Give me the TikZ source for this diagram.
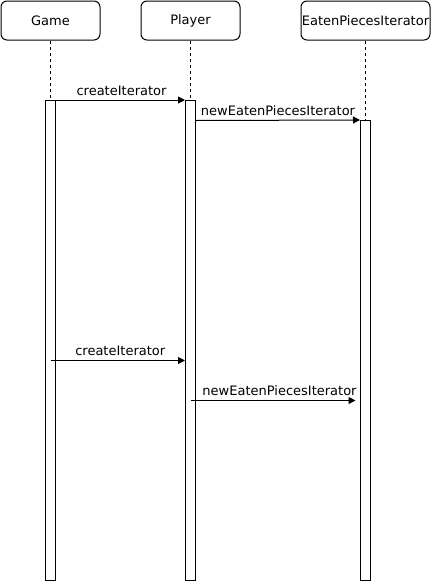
\documentclass[tikz,border=0pt]{standalone}
\usepackage{fontspec}
\setmainfont{DejaVu Sans}
\usetikzlibrary{arrows.meta}
\begin{document}
\begin{tikzpicture}[x=1pt,y=-1pt,line width=1pt,
  actor/.style={draw,rounded corners=6pt,minimum width=99pt,minimum height=39pt,inner sep=0pt,font=\fontsize{13}{15}\selectfont},
  activation/.style={draw,fill=white,minimum width=10pt,inner sep=0pt},
  lifeline/.style={dashed,line width=0.6pt,dash pattern=on 3pt off 3pt},
  msg/.style={-{Triangle[length=7pt,width=7pt]}},
  lbl/.style={font=\fontsize{13}{15}\selectfont,inner sep=0pt}]
\useasboundingbox (0,0) rectangle (431,581);
\node[actor] (game) at (50.5,20.5) {Game};
\node[actor] (player) at (190.5,20.5) {Player};
\node[actor,minimum width=129pt] (epi) at (365.5,20.5) {EatenPiecesIterator};
\node[activation,minimum height=480pt] (ga) at (50.5,340.5) {};
\node[activation,minimum height=480pt] (pa) at (190.5,340.5) {};
\node[activation,minimum height=460pt] (ea) at (365.5,350.5) {};
\draw[lifeline] (game.south) -- (ga.north);
\draw[lifeline] (player.south) -- (pa.north);
\draw[lifeline] (epi.south) -- (ea.north);
\coordinate (m2) at (0,120.5);
\coordinate (m3) at (0,360.5);
\coordinate (m4) at (0,400.5);
\coordinate (m4end) at (355.5,400.5);
\draw[msg] (ga.north east) -- node[lbl,above=4pt,xshift=1pt] {createIterator} (pa.north west);
\draw[msg] (pa.east |- m2) -- node[lbl,above=4pt] {newEatenPiecesIterator} (ea.north west);
\draw[msg] (ga.center |- m3) -- node[lbl,above=4pt,xshift=2.5pt] {createIterator} (pa.west |- m3);
\draw[msg] (pa.center |- m4) -- node[lbl,above=4pt,xshift=6.5pt] {newEatenPiecesIterator} (m4end);
\end{tikzpicture}
\end{document}
